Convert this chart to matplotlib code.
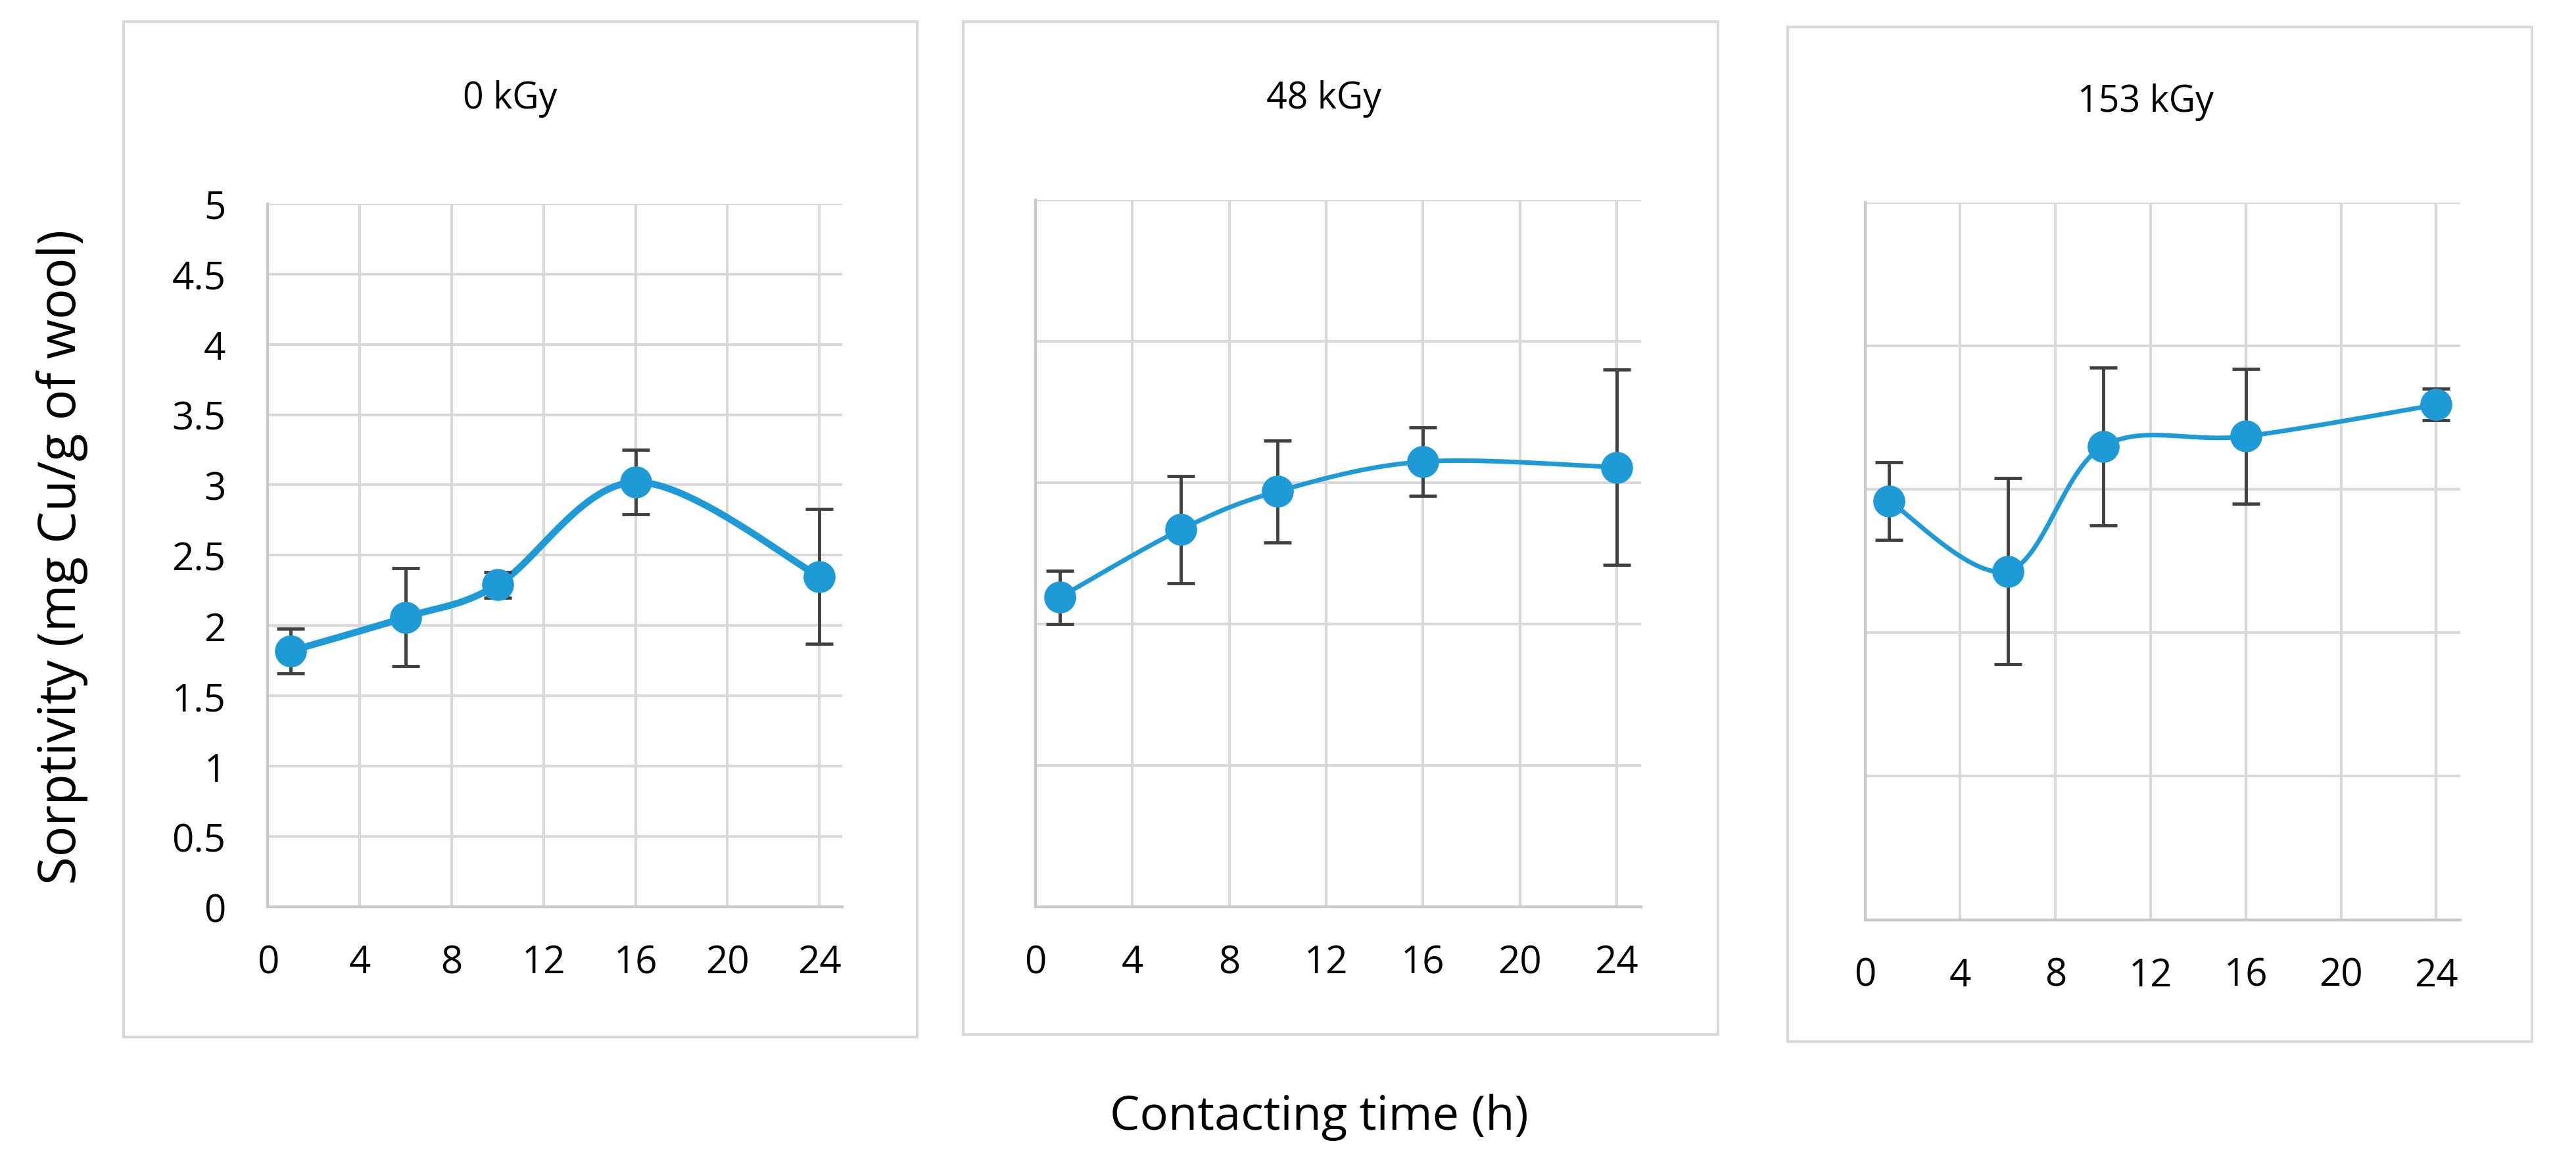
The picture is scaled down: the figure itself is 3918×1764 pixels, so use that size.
import matplotlib.pyplot as plt
import numpy as np
from matplotlib.patches import Rectangle

# Дані
time_h = [1, 6, 10, 16, 24]
dose_titles = ['0 kGy', '48 kGy', '153 kGy']
sorp_0 = [1.82, 2.06, 2.29, 3.02, 2.35]
err_0 = [0.16, 0.35, 0.09, 0.23, 0.48]
sorp_48 = [2.19, 2.67, 2.94, 3.15, 3.11]
err_48 = [0.19, 0.38, 0.36, 0.24, 0.69]
sorp_153 = [2.92, 2.43, 3.30, 3.37, 3.59]
err_153 = [0.27, 0.65, 0.55, 0.47, 0.11]
x_ticks = [0, 4, 8, 12, 16, 20, 24]

BLUE = '#1E9BD7'
GRID = '#D9D9D9'


def smooth(xs, ys, n=40):
    # згладжена лінія як в Excel (Catmull-Rom)
    p = np.column_stack([xs, ys]).astype(float)
    p = np.vstack([p[0], p, p[-1]])
    out = []
    for i in range(1, len(p) - 2):
        p0, p1, p2, p3 = p[i - 1], p[i], p[i + 1], p[i + 2]
        c1 = p1 + (p2 - p0) / 6
        c2 = p2 - (p3 - p1) / 6
        t = np.linspace(0, 1, n)[:, None]
        seg = ((1 - t) ** 3) * p1 + 3 * ((1 - t) ** 2) * t * c1 + 3 * (1 - t) * t ** 2 * c2 + t ** 3 * p2
        out.append(seg)
    s = np.vstack(out)
    return s[:, 0], s[:, 1]


fig = plt.figure(figsize=(39.18, 17.65), dpi=100)
plt.rcParams['font.family'] = ['Open Sans', 'DejaVu Sans']

boxes = [(0.048, 0.106, 0.308, 0.875), (0.374, 0.108, 0.293, 0.873), (0.694, 0.102, 0.289, 0.874)]
axes_pos = [(0.104, 0.218, 0.223, 0.606), (0.402, 0.218, 0.235, 0.609), (0.724, 0.207, 0.231, 0.618)]
title_pos = [(0.198, 0.915), (0.514, 0.915), (0.833, 0.912)]
series = [(sorp_0, err_0, 7.5), (sorp_48, err_48, 5), (sorp_153, err_153, 5)]

for i in range(3):
    bx = boxes[i]
    fig.patches.append(Rectangle((bx[0], bx[1]), bx[2], bx[3], transform=fig.transFigure,
                                 fill=False, edgecolor=GRID, linewidth=3))
    ax = fig.add_axes(axes_pos[i])
    y, e, lw = series[i]
    sx, sy = smooth(time_h, y)
    ax.plot(sx, sy, color=BLUE, linewidth=lw, zorder=3)
    ax.errorbar(time_h, y, yerr=e, fmt='none', ecolor='#404040', elinewidth=3.5,
                capsize=15, capthick=3.5, zorder=4)
    ax.plot(time_h, y, 'o', color=BLUE, markersize=34, zorder=5)

    ax.set_xlim(0, 25)
    ax.set_ylim(0, 5)
    ax.set_xticks(x_ticks)
    if i == 0:
        ax.set_yticks(np.arange(0, 5.01, 0.5))
        ax.set_yticklabels(['0', '0.5', '1', '1.5', '2', '2.5', '3', '3.5', '4', '4.5', '5'])
    else:
        ax.set_yticks(np.arange(0, 6, 1))
        ax.set_yticklabels([])
    ax.grid(True, color=GRID, linewidth=3)
    ax.set_axisbelow(True)
    ax.tick_params(length=0, labelsize=42, colors='#000000')
    ax.tick_params(axis='x', pad=40)
    ax.tick_params(axis='y', pad=46)
    for s in ['top', 'right']:
        ax.spines[s].set_visible(False)
    for s in ['left', 'bottom']:
        ax.spines[s].set_color('#C8C8C8')
        ax.spines[s].set_linewidth(3)
    fig.text(title_pos[i][0], title_pos[i][1], dose_titles[i], fontsize=40, ha='center', va='center')

fig.text(0.024, 0.52, 'Sorptivity (mg Cu/g of wool)', fontsize=56, rotation=90, ha='center', va='center')
fig.text(0.512, 0.037, 'Contacting time (h)', fontsize=52, ha='center', va='center')

fig.savefig('out.png', dpi=100, facecolor='white')
